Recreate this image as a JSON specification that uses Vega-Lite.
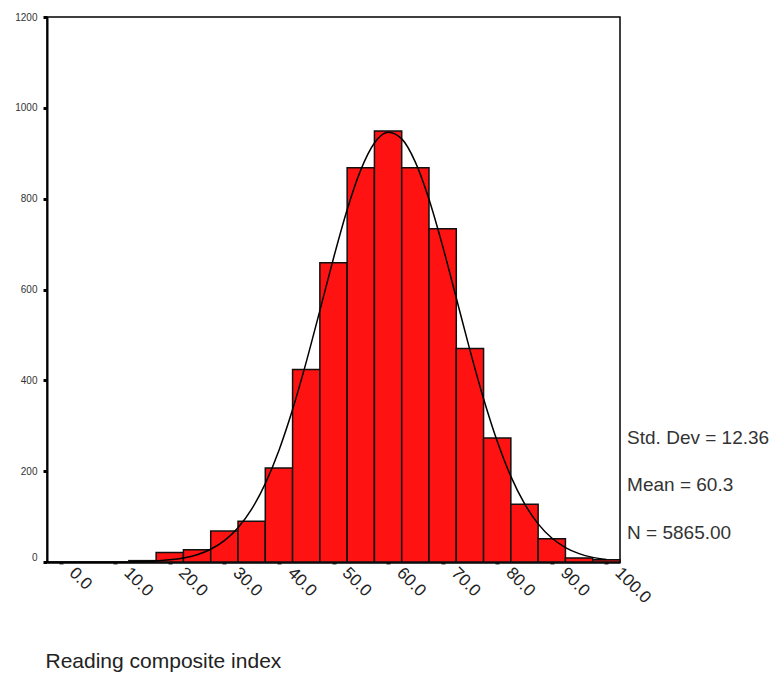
{
  "$schema": "https://vega.github.io/schema/vega-lite/v6.json",
  "autosize": {"type": "none"},
  "padding": {"left": 47, "top": 17, "right": 164, "bottom": 118},
  "width": 573,
  "height": 545,
  "background": "white",
  "config": {"view": {"stroke": "black", "strokeWidth": 1.5}, "font": "Liberation Sans"},
  "layer": [
    {
      "data": {"values": [
        {"lo": 12.5, "hi": 17.5, "count": 3},
        {"lo": 17.5, "hi": 22.5, "count": 21},
        {"lo": 22.5, "hi": 27.5, "count": 27},
        {"lo": 27.5, "hi": 32.5, "count": 68},
        {"lo": 32.5, "hi": 37.5, "count": 90},
        {"lo": 37.5, "hi": 42.5, "count": 207},
        {"lo": 42.5, "hi": 47.5, "count": 424},
        {"lo": 47.5, "hi": 52.5, "count": 659},
        {"lo": 52.5, "hi": 57.5, "count": 868},
        {"lo": 57.5, "hi": 62.5, "count": 949},
        {"lo": 62.5, "hi": 67.5, "count": 868},
        {"lo": 67.5, "hi": 72.5, "count": 734},
        {"lo": 72.5, "hi": 77.5, "count": 470},
        {"lo": 77.5, "hi": 82.5, "count": 273},
        {"lo": 82.5, "hi": 87.5, "count": 127},
        {"lo": 87.5, "hi": 92.5, "count": 51},
        {"lo": 92.5, "hi": 97.5, "count": 9},
        {"lo": 97.5, "hi": 102.5, "count": 5}
      ]},
      "mark": {"type": "rect", "fill": "#ff1212", "stroke": "#111111", "strokeWidth": 1.5},
      "encoding": {
        "x": {
          "field": "lo", "type": "quantitative",
          "scale": {"domain": [-2.5, 102.5], "nice": false, "zero": false},
          "axis": {
            "values": [0, 10, 20, 30, 40, 50, 60, 70, 80, 90, 100],
            "format": ".1f",
            "labelAngle": 45,
            "labelAlign": "left",
            "labelBaseline": "middle",
            "labelFontSize": 17,
            "labelColor": "#222222",
            "labelOffset": 11,
            "labelPadding": 6,
            "labelFlush": false,
            "labelOverlap": false,
            "tickSize": 2,
            "tickWidth": 4,
            "tickColor": "#444444",
            "domainColor": "black",
            "domainWidth": 2.5,
            "grid": false,
            "title": "Reading composite index",
            "titleAnchor": "start",
            "titleAlign": "left",
            "titleBaseline": "alphabetic",
            "titleX": -2,
            "titleY": 105,
            "titleFontSize": 21,
            "titleFontWeight": "normal",
            "titleColor": "#222222"
          }
        },
        "x2": {"field": "hi"},
        "y": {
          "field": "count", "type": "quantitative",
          "scale": {"domain": [0, 1200], "nice": false},
          "axis": {
            "values": [0, 200, 400, 600, 800, 1000, 1200],
            "format": "d",
            "labelFontSize": 10,
            "labelColor": "#333333",
            "labelPadding": 6,
            "labelBaseline": {"condition": {"test": "datum.value == 0", "value": "bottom"}, "value": "middle"},
            "tickSize": 4,
            "tickWidth": 3,
            "tickColor": "black",
            "domainColor": "black",
            "domainWidth": 2,
            "grid": false,
            "title": null
          }
        },
        "y2": {"datum": 0}
      }
    },
    {
      "data": {"values": [
        {"x": 12.5, "y": 0.5}, {"x": 15, "y": 1.2}, {"x": 17.5, "y": 2.4}, {"x": 20, "y": 4.7},
        {"x": 22.5, "y": 8.8}, {"x": 25, "y": 16.0}, {"x": 27.5, "y": 28.0}, {"x": 30, "y": 46.9},
        {"x": 32.5, "y": 75.5}, {"x": 35, "y": 116.5}, {"x": 37.5, "y": 172.7}, {"x": 40, "y": 245.7},
        {"x": 42.5, "y": 335.6}, {"x": 45, "y": 440.0}, {"x": 47.5, "y": 553.6}, {"x": 50, "y": 668.9},
        {"x": 52.5, "y": 775.7}, {"x": 55, "y": 863.4}, {"x": 57.5, "y": 922.6}, {"x": 60, "y": 946.2},
        {"x": 62.5, "y": 931.7}, {"x": 65, "y": 880.5}, {"x": 67.5, "y": 798.8}, {"x": 70, "y": 695.6},
        {"x": 72.5, "y": 581.4}, {"x": 75, "y": 466.6}, {"x": 77.5, "y": 359.4}, {"x": 80, "y": 265.8},
        {"x": 82.5, "y": 188.6}, {"x": 85, "y": 128.5}, {"x": 87.5, "y": 84.0}, {"x": 90, "y": 52.8},
        {"x": 92.5, "y": 31.8}, {"x": 95, "y": 18.4}, {"x": 97.5, "y": 10.2}, {"x": 100, "y": 5.4}
      ]},
      "mark": {"type": "line", "color": "black", "strokeWidth": 1.5, "interpolate": "monotone"},
      "encoding": {
        "x": {"field": "x", "type": "quantitative"},
        "y": {"field": "y", "type": "quantitative"}
      }
    },
    {
      "data": {"values": [{"sd": 12.36, "mean": 60.3, "n": 5865}]},
      "mark": {
        "type": "text",
        "text": ["Std. Dev = 12.36", "Mean = 60.3", "N = 5865.00"],
        "lineHeight": 47.5,
        "align": "left",
        "baseline": "alphabetic",
        "fontSize": 19,
        "color": "#333333"
      },
      "encoding": {
        "x": {"datum": 103.8, "type": "quantitative"},
        "y": {"datum": 260, "type": "quantitative"}
      }
    }
  ]
}
